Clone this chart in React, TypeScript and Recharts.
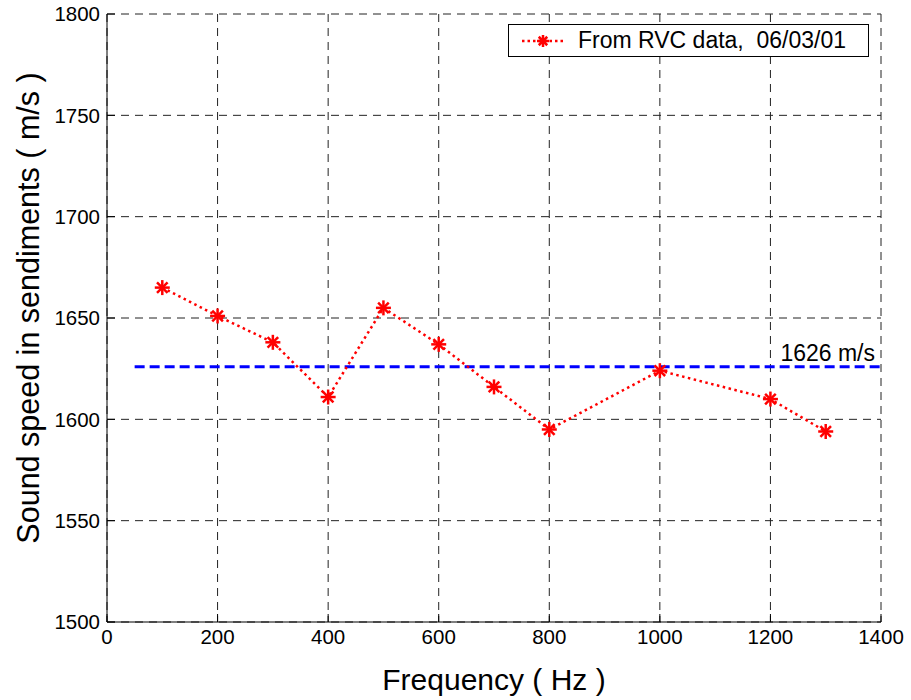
import {
  LineChart,
  Line,
  XAxis,
  YAxis,
  CartesianGrid,
  ReferenceLine,
  Legend,
} from "recharts"

const frequencies = [100, 200, 300, 400, 500, 600, 700, 800, 1000, 1200, 1300]
const speeds = [1665, 1651, 1638, 1611, 1655, 1637, 1616, 1595, 1624, 1610, 1594]
const meanSpeed = 1626
const meanRange = [50, 1400]
const xTicks = [0, 200, 400, 600, 800, 1000, 1200, 1400]
const yTicks = [1500, 1550, 1600, 1650, 1700, 1750, 1800]

const data = frequencies.map((f, i) => ({ freq: f, speed: speeds[i] }))

const font = "'Liberation Sans', Arial, Helvetica, sans-serif"

function Star({ cx, cy, r = 7, color = "#ff0000" }: { cx: number; cy: number; r?: number; color?: string }) {
  const d = r * 0.707
  return (
    <g stroke={color} strokeWidth={2.5}>
      <line x1={cx - r} y1={cy} x2={cx + r} y2={cy} />
      <line x1={cx} y1={cy - r} x2={cx} y2={cy + r} />
      <line x1={cx - d} y1={cy - d} x2={cx + d} y2={cy + d} />
      <line x1={cx - d} y1={cy + d} x2={cx + d} y2={cy - d} />
    </g>
  )
}

const renderDot = (props: any) => {
  const { cx, cy, index } = props
  return <Star key={index} cx={cx} cy={cy} r={7.5} />
}

const LegendBox = () => (
  <div
    style={{
      width: 359,
      height: 31,
      border: "1px solid #000",
      background: "#fff",
      display: "flex",
      alignItems: "center",
      fontFamily: font,
      fontSize: 23,
      color: "#000",
    }}
  >
    <svg width={66} height={31} style={{ flex: "none" }}>
      <line x1={13} y1={16} x2={55} y2={16} stroke="#ff0000" strokeWidth={2.5} strokeDasharray="2.5 3" />
      <Star cx={34} cy={16} r={6} />
    </svg>
    <span style={{ marginLeft: 3, whiteSpace: "pre" }}>From RVC data,  06/03/01</span>
  </div>
)

const YLabel = (props: any) => {
  const { viewBox } = props
  const cx = 28
  const cy = viewBox.y + viewBox.height / 2 - 10
  return (
    <text
      x={cx}
      y={cy}
      transform={`rotate(-90, ${cx}, ${cy})`}
      textAnchor="middle"
      dominantBaseline="central"
      fontSize={30.5}
      fill="#000"
    >
      Sound speed in sendiments ( m/s )
    </text>
  )
}

export default function App() {
  return (
    <div style={{ position: "absolute", left: 0, top: 0, width: 911, height: 700, background: "#fff" }}>
      <LineChart
        width={911}
        height={700}
        data={data}
        margin={{ top: 14, right: 30, bottom: 0, left: 0 }}
        style={{ fontFamily: font }}
      >
        <CartesianGrid stroke="#222" strokeDasharray="8 6" />
        <XAxis
          type="number"
          dataKey="freq"
          domain={[0, 1400]}
          ticks={xTicks}
          height={78}
          stroke="#000"
          tickSize={-8}
          tickMargin={15}
          tick={{ fill: "#000", fontSize: 20.5 }}
          label={{ value: "Frequency ( Hz )", position: "insideBottom", offset: 10, style: { fontSize: 30, fill: "#000" } }}
        />
        <XAxis
          xAxisId="top"
          orientation="top"
          type="number"
          dataKey="freq"
          domain={[0, 1400]}
          ticks={xTicks}
          height={0}
          stroke="#000"
          tickSize={-8}
          tick={false}
        />
        <YAxis
          type="number"
          domain={[1500, 1800]}
          ticks={yTicks}
          width={107}
          stroke="#000"
          tickSize={-8}
          tickMargin={15}
          tick={{ fill: "#000", fontSize: 20.5 }}
          label={<YLabel />}
        />
        <YAxis
          yAxisId="right"
          orientation="right"
          type="number"
          domain={[1500, 1800]}
          ticks={yTicks}
          width={0}
          stroke="#000"
          tickSize={-8}
          tick={false}
        />
        <ReferenceLine
          segment={[
            { x: meanRange[0], y: meanSpeed },
            { x: meanRange[1], y: meanSpeed },
          ]}
          stroke="#0000ff"
          strokeWidth={3}
          strokeDasharray="10 5"
          label={{ value: "1626 m/s", position: "insideBottomRight", offset: 6, style: { fontSize: 23, fill: "#000" } }}
        />
        <Line
          type="linear"
          dataKey="speed"
          stroke="#ff0000"
          strokeWidth={2.5}
          strokeDasharray="2.5 3.5"
          dot={renderDot}
          activeDot={false}
          isAnimationActive={false}
        />
        <Legend
          verticalAlign="middle"
          align="center"
          content={<LegendBox />}
          wrapperStyle={{ top: 24, left: 508, width: 361 }}
        />
      </LineChart>
    </div>
  )
}
